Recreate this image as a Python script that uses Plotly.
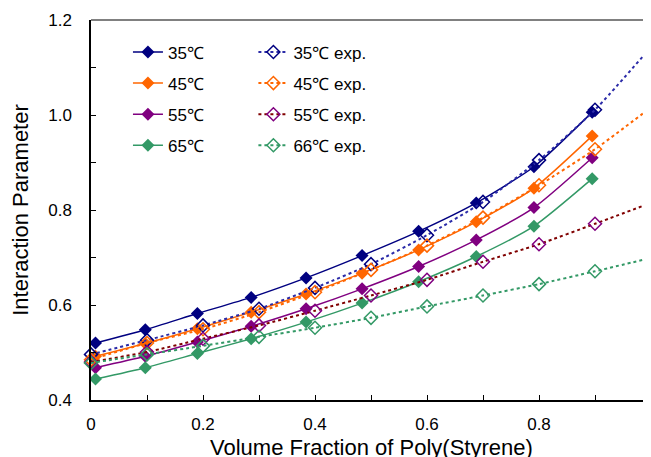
import plotly.graph_objects as go

# ---- data ----
x_calc = [0.008, 0.097, 0.19, 0.286, 0.384, 0.484, 0.585, 0.688, 0.791, 0.895]
y35 = [0.520, 0.548, 0.582, 0.616, 0.657, 0.704, 0.755, 0.815, 0.891, 1.006]
y45 = [0.492, 0.519, 0.550, 0.585, 0.623, 0.667, 0.716, 0.775, 0.846, 0.956]
y55 = [0.468, 0.492, 0.522, 0.555, 0.592, 0.634, 0.681, 0.737, 0.805, 0.910]
y65 = [0.444, 0.468, 0.498, 0.529, 0.564, 0.604, 0.649, 0.702, 0.766, 0.866]

x_exp = [0.0, 0.1, 0.2, 0.3, 0.4, 0.5, 0.6, 0.7, 0.8, 0.9, 1.0]
e35 = [0.496, 0.526, 0.557, 0.592, 0.636, 0.686, 0.747, 0.817, 0.905, 1.011, 1.143]
e45 = [0.485, 0.520, 0.549, 0.585, 0.627, 0.674, 0.725, 0.784, 0.852, 0.928, 1.016]
e55 = [0.480, 0.501, 0.529, 0.557, 0.588, 0.620, 0.653, 0.691, 0.728, 0.771, 0.815]
e66 = [0.478, 0.496, 0.514, 0.533, 0.552, 0.573, 0.597, 0.620, 0.644, 0.671, 0.699]

calc_names = ["35℃", "45℃", "55℃", "65℃"]
exp_names = ["35℃ exp.", "45℃ exp.", "55℃ exp.", "66℃ exp."]
x_title = "Volume Fraction of Poly(Styrene)"
y_title = "Interaction Parameter"

FONT = "Liberation Sans, Arial, sans-serif"

calc_styles = [
    ("#000080", "#000080"),
    ("#FF6600", "#FF6600"),
    ("#800080", "#800080"),
    ("#339966", "#339966"),
]
exp_styles = [  # (line colour, marker colour)
    ("#2B2BA8", "#000080"),
    ("#FF6600", "#FF6600"),
    ("#800000", "#800080"),
    ("#339966", "#339966"),
]

fig = go.Figure()

for i, (name, ys) in enumerate(zip(calc_names, [y35, y45, y55, y65])):
    lc, mc = calc_styles[i]
    fig.add_trace(go.Scatter(
        x=x_calc, y=ys, name=name, mode="lines+markers",
        line=dict(color=lc, width=1.5, shape="spline", smoothing=0.6),
        marker=dict(symbol="diamond", size=10, color=mc),
        legend="legend", legendgroup=f"c{i}", cliponaxis=False,
    ))

for i, (name, ys) in enumerate(zip(exp_names, [e35, e45, e55, e66])):
    lc, mc = exp_styles[i]
    fig.add_trace(go.Scatter(
        x=x_exp, y=ys, name=name, mode="lines+markers",
        line=dict(color=lc, width=2, dash="dot", shape="spline", smoothing=0.6),
        marker=dict(symbol="diamond-open", size=10, color=mc, line=dict(width=1.5, color=mc)),
        legend="legend2", legendgroup=f"e{i}", cliponaxis=False,
    ))

legend_common = dict(
    font=dict(family=FONT, size=17, color="black"),
    bgcolor="rgba(0,0,0,0)", borderwidth=0,
    tracegroupgap=6, yanchor="top", xanchor="left",
)

fig.update_layout(
    width=643, height=449,
    margin=dict(l=83, r=0, t=12, b=57),
    paper_bgcolor="white", plot_bgcolor="white",
    font=dict(family=FONT, size=17, color="black"),
    showlegend=True,
    legend=dict(x=0.066, y=0.962, **legend_common),
    legend2=dict(x=0.29, y=0.962, **legend_common),
    xaxis=dict(
        range=[0, 1], showgrid=False, zeroline=False,
        showline=True, linecolor="black", linewidth=1.5,
        ticks="inside", ticklen=5, tickcolor="black", tickwidth=1,
        dtick=0.2, tick0=0, ticklabelstandoff=8,
        minor=dict(dtick=0.1, ticks="inside", ticklen=5, tickcolor="black", showgrid=False),
        tickfont=dict(family=FONT, size=17, color="black"),
        automargin=False,
    ),
    yaxis=dict(
        range=[0.4, 1.2], showgrid=False, zeroline=False,
        showline=True, linecolor="black", linewidth=1.5,
        ticks="inside", ticklen=5, tickcolor="black", tickwidth=1,
        dtick=0.2, tick0=0.4, tickformat=".1f", ticklabelstandoff=14,
        minor=dict(dtick=0.1, ticks="inside", ticklen=5, tickcolor="black", showgrid=False),
        tickfont=dict(family=FONT, size=17, color="black"),
        title=dict(text=y_title, font=dict(family=FONT, size=22, color="black"), standoff=16),
        automargin=False,
    ),
    annotations=[dict(
        text=x_title, xref="paper", yref="paper", x=0.5, y=-0.088,
        xanchor="center", yanchor="top", showarrow=False,
        font=dict(family=FONT, size=22, color="black"),
    )],
    shapes=[dict(type="line", xref="paper", yref="paper", x0=0, x1=1, y0=1, y1=1,
                 line=dict(color="#808080", width=2))],
)

fig.write_html("out.html")
